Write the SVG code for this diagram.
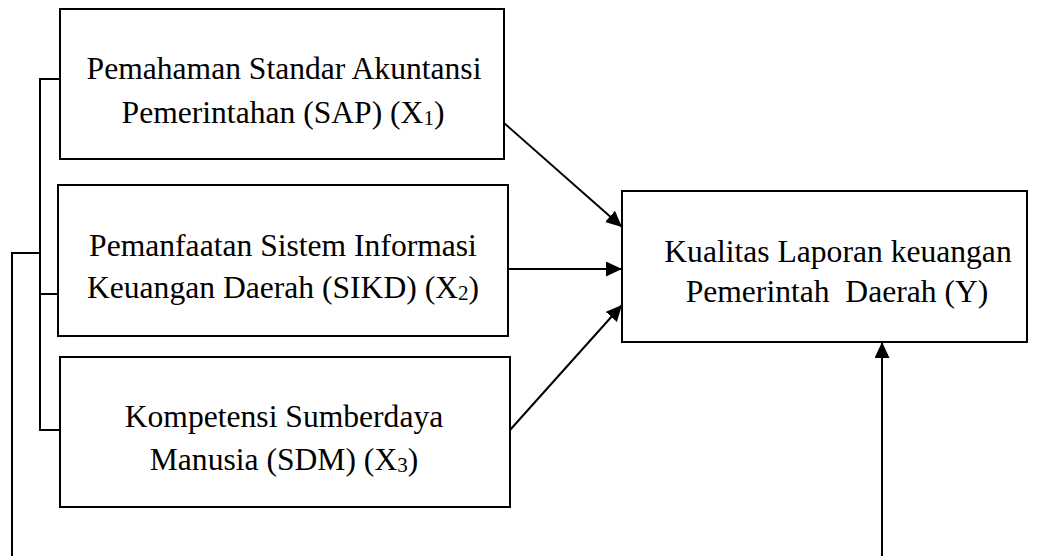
<svg xmlns="http://www.w3.org/2000/svg" width="1049" height="556" viewBox="0 0 1049 556">
<style>
.box{fill:#fff;stroke:#000;stroke-width:2}
.ln{fill:none;stroke:#000;stroke-width:2}
.t{font-family:"Liberation Serif","Times New Roman",serif;font-size:31.6px;fill:#000;text-anchor:middle}
.sub{font-size:21px}
</style>
<defs>
<marker id="ah" markerUnits="userSpaceOnUse" markerWidth="17" markerHeight="16" refX="16" refY="7.5" orient="auto">
<path d="M0,0 L16,7.5 L0,15 z" fill="#000"/>
</marker>
</defs>
<rect width="1049" height="556" fill="#fff"/>
<g id="connectors">
<polyline class="ln" points="60,79 40,79 40,430 60,430"/>
<line class="ln" x1="40" y1="294" x2="58" y2="294"/>
<polyline class="ln" points="40,253 12,253 12,556"/>
<line class="ln" x1="504" y1="123" x2="622" y2="227" marker-end="url(#ah)"/>
<line class="ln" x1="508" y1="269" x2="622" y2="269" marker-end="url(#ah)"/>
<line class="ln" x1="510" y1="430" x2="622" y2="305" marker-end="url(#ah)"/>
<line class="ln" x1="882" y1="556" x2="882" y2="342" marker-end="url(#ah)"/>
</g>
<g id="x1">
<rect class="box" x="60" y="9" width="444" height="150"/>
<text class="t" x="284" y="79">Pemahaman Standar Akuntansi</text>
<text class="t" x="283" y="123">Pemerintahan (SAP) (X<tspan class="sub" dy="2">1</tspan><tspan dy="-2">)</tspan></text>
</g>
<g id="x2">
<rect class="box" x="58" y="185" width="450" height="151"/>
<text class="t" x="283" y="256">Pemanfaatan Sistem Informasi</text>
<text class="t" x="283" y="298">Keuangan Daerah (SIKD) (X<tspan class="sub" dy="2">2</tspan><tspan dy="-2">)</tspan></text>
</g>
<g id="x3">
<rect class="box" x="60" y="357" width="450" height="150"/>
<text class="t" x="284" y="427">Kompetensi Sumberdaya</text>
<text class="t" x="284" y="470">Manusia (SDM) (X<tspan class="sub" dy="2">3</tspan><tspan dy="-2">)</tspan></text>
</g>
<g id="y">
<rect class="box" x="622" y="191" width="405" height="151"/>
<text class="t" x="838" y="262">Kualitas Laporan keuangan</text>
<text class="t" x="837" y="302" xml:space="preserve">Pemerintah  Daerah (Y)</text>
</g>
</svg>
